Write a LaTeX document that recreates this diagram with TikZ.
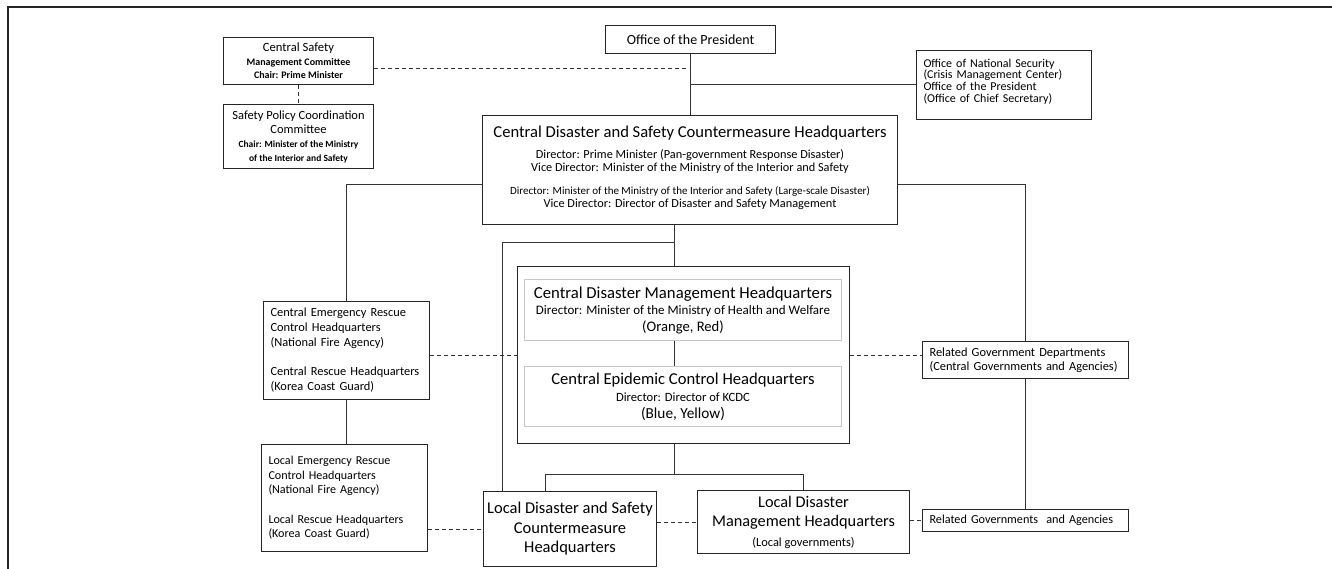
\documentclass[tikz,border=0pt]{standalone}
\usepackage{fontspec}
\setmainfont{Carlito}
\newcommand\fs[2]{\fontsize{#1}{#2}\selectfont}
\begin{document}
\begin{tikzpicture}[x=1pt,y=-1pt,
  box/.style={draw=black!85, line width=1pt, anchor=north west, inner sep=0pt, align=center, text=black},
  lbox/.style={box, align=left, inner xsep=7pt},
  gbox/.style={box, draw=black!22},
  conn/.style={draw=black!80, line width=1pt},
  dconn/.style={conn, dash pattern=on 4pt off 3pt}]
\useasboundingbox (0,0) rectangle (1332,569);
% frame
\draw[black!85, line width=1.6pt] (8,569) -- (8,7) -- (1332,7);

% nodes
\node[box, minimum width=150pt, minimum height=47pt, font=\fs{12.6}{13.5}] (csmc) at (223,37)
  {Central Safety\\ \fs{10}{13.5}\bfseries Management Committee\\ \fs{10}{13.5}\bfseries Chair: Prime Minister};
\node[box, minimum width=150pt, minimum height=64pt, font=\fs{12.5}{14}] (spcc) at (223,104)
  {Safety Policy Coordination\\ Committee\\ \fs{9.5}{12}\bfseries Chair: Minister of the Ministry\\ \fs{9.5}{12}\bfseries of the Interior and Safety};
\node[box, minimum width=170pt, minimum height=28pt, font=\fs{14}{16}] (pres) at (605,25)
  {Office of the President};
\node[lbox, text width=161pt, minimum height=69pt, font=\fs{12}{11.7}] (ons) at (916,50)
  {Office of National Security\\ (Crisis Management Center)\\ Office of the President\\ (Office of Chief Secretary)\\[-2.7pt]\mbox{}};
\node[box, minimum width=415pt, minimum height=109pt, font=\fs{12.3}{13}] (cdsch) at (482,115)
  {\fs{16.6}{18}Central Disaster and Safety Countermeasure Headquarters\\[8pt]
   Director: Prime Minister (Pan-government Response Disaster)\\
   Vice Director: Minister of the Ministry of the Interior and Safety\\[10pt]
   \fs{11}{13}Director: Minister of the Ministry of the Interior and Safety (Large-scale Disaster)\\
   Vice Director: Director of Disaster and Safety Management\\[-6pt]\mbox{}};
\node[lbox, text width=152pt, minimum height=98pt, font=\fs{12.4}{15}] (ce) at (263,301)
  {Central Emergency Rescue\\ Control Headquarters\\ (National Fire Agency)\\[14pt]
   Central Rescue Headquarters\\ (Korea Coast Guard)};
\node[box, minimum width=332pt, minimum height=177pt] (outer) at (517,266) {};
\node[gbox, minimum width=317pt, minimum height=61pt, font=\fs{13}{16.5}] (cdmh) at (524,279)
  {\fs{16.7}{18}Central Disaster Management Headquarters\\
   Director: Minister of the Ministry of Health and Welfare\\
   \fs{14.6}{16}(Orange, Red)};
\node[gbox, minimum width=317pt, minimum height=60pt, font=\fs{12.6}{17}] (cech) at (524,366)
  {\fs{16.6}{18}Central Epidemic Control Headquarters\\
   Director: Director of KCDC\\
   \fs{15.3}{16}(Blue, Yellow)};
\node[lbox, text width=192pt, minimum height=37pt, font=\fs{12.4}{14}] (rgd) at (922,341)
  {Related Government Departments\\ (Central Governments and Agencies)};
\node[lbox, text width=152pt, minimum height=107pt, font=\fs{12.1}{14.5}] (le) at (261,444)
  {Local Emergency Rescue\\ Control Headquarters\\ (National Fire Agency)\\[15pt]
   Local Rescue Headquarters\\ (Korea Coast Guard)};
\node[box, minimum width=173pt, minimum height=75pt, font=\fs{16.5}{19.5}] (ldsch) at (483,491)
  {Local Disaster and Safety\\ Countermeasure\\ Headquarters};
\node[box, minimum width=212pt, minimum height=63pt, font=\fs{16.3}{19.5}] (ldmh) at (697,490)
  {Local Disaster\\ Management Headquarters\\ \fs{12.4}{18}(Local governments)};
\node[lbox, text width=192pt, minimum height=22pt, font=\fs{12.2}{13}] (rga) at (922,509)
  {Related Governments\ \ and Agencies};

% helper coordinates
\coordinate (jP) at (689,69);
\coordinate (yL) at (0,185);
\coordinate (mx) at (674,0);
\coordinate (bj) at (674,243);
\coordinate (lx) at (502,0);
\coordinate (yB) at (0,474);
\coordinate (sx) at (545,0);

% connectors
\draw[dconn] (csmc.south) -- (spcc.north);
\draw[dconn] (csmc.east |- jP) -- (jP);
\draw[conn] (pres.south) -- (pres.south |- cdsch.north);
\draw[conn] (pres.south |- ons.west) -- (ons.west);
\draw[conn] (cdsch.west |- yL) -| (ce.north);
\draw[conn] (cdsch.east |- yL) -| (rgd.north);
\draw[conn] (cdsch.south -| mx) -- (outer.north -| mx);
\draw[conn] (bj) -| (ldsch.north -| lx);
\draw[conn] (cdmh.south -| mx) -- (cech.north -| mx);
\draw[conn] (outer.south -| mx) -- (mx |- yB);
\draw[conn] (ldsch.north -| sx) -- (sx |- yB) -- (ldmh.north |- yB) -- (ldmh.north);
\draw[conn] (ce.south) -- (ce.south |- le.north);
\draw[dconn] (ce.east |- outer.west) -- (outer.west);
\draw[dconn] (outer.east) -- (outer.east -| rgd.west);
\draw[conn] (rgd.south) -- (rga.north);
\draw[dconn] (le.east |- ldsch.west) -- (ldsch.west);
\draw[dconn] (ldsch.east |- ldmh.west) -- (ldmh.west);
\draw[dconn] (ldmh.east |- rga.west) -- (rga.west);
\end{tikzpicture}
\end{document}
